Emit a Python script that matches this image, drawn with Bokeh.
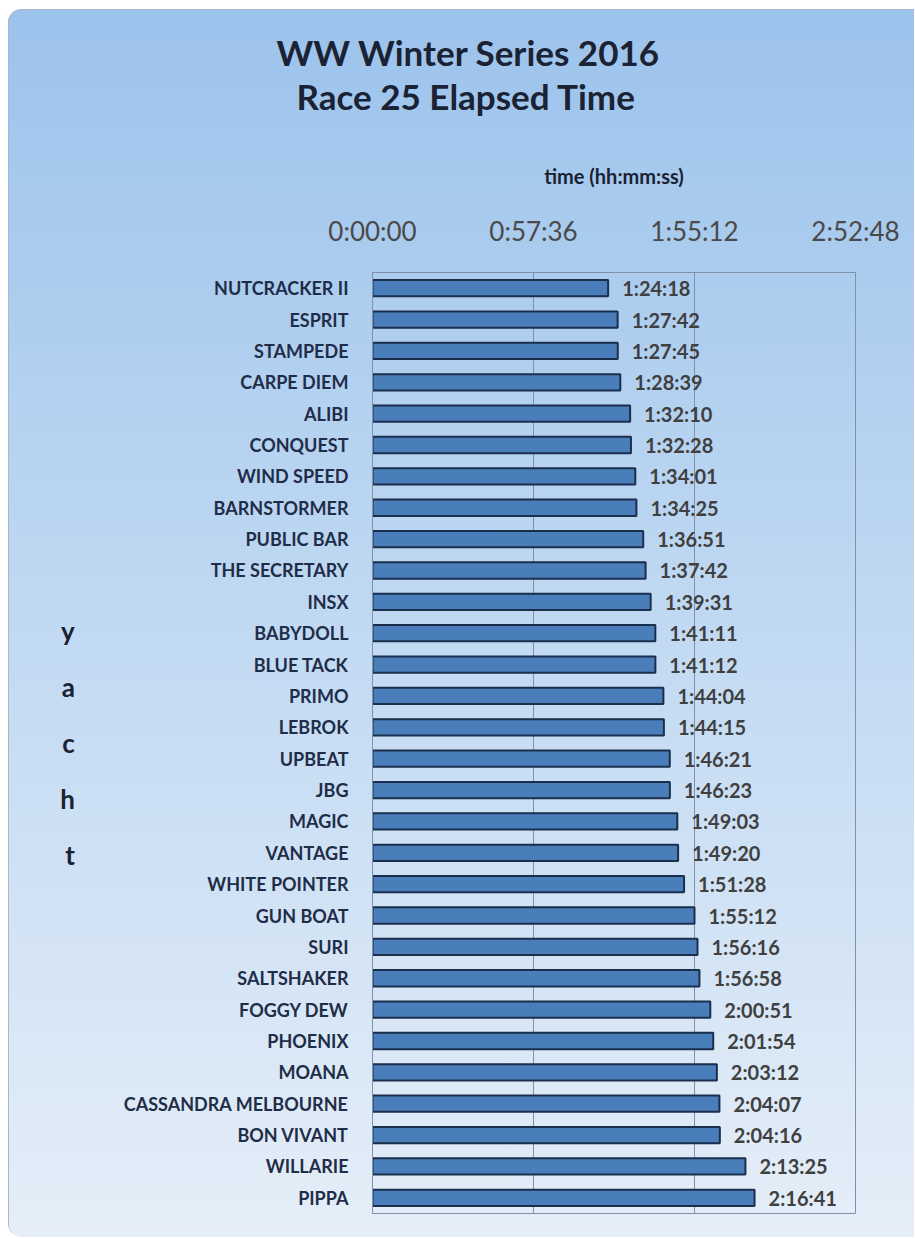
from bokeh.plotting import figure
from bokeh.models import FactorRange, Range1d, FixedTicker, Title, ColumnDataSource
from bokeh.embed import file_html
from bokeh.resources import INLINE
from bokeh.core.properties import value

title_lines = ["WW Winter Series 2016", "Race 25 Elapsed Time"]
x_label = "time (hh:mm:ss)"
y_label = "yacht"

yachts = ["NUTCRACKER II", "ESPRIT", "STAMPEDE", "CARPE DIEM", "ALIBI", "CONQUEST",
          "WIND SPEED", "BARNSTORMER", "PUBLIC BAR", "THE SECRETARY", "INSX", "BABYDOLL",
          "BLUE TACK", "PRIMO", "LEBROK", "UPBEAT", "JBG", "MAGIC", "VANTAGE",
          "WHITE POINTER", "GUN BOAT", "SURI", "SALTSHAKER", "FOGGY DEW", "PHOENIX",
          "MOANA", "CASSANDRA MELBOURNE", "BON VIVANT", "WILLARIE", "PIPPA"]
elapsed = ["1:24:18", "1:27:42", "1:27:45", "1:28:39", "1:32:10", "1:32:28",
           "1:34:01", "1:34:25", "1:36:51", "1:37:42", "1:39:31", "1:41:11",
           "1:41:12", "1:44:04", "1:44:15", "1:46:21", "1:46:23", "1:49:03", "1:49:20",
           "1:51:28", "1:55:12", "1:56:16", "1:56:58", "2:00:51", "2:01:54",
           "2:03:12", "2:04:07", "2:04:16", "2:13:25", "2:16:41"]
tick_seconds = [0, 3456, 6912, 10368]
tick_labels = ["0:00:00", "0:57:36", "1:55:12", "2:52:48"]


def to_sec(s):
    h, m, x = (int(v) for v in s.split(":"))
    return h * 3600 + m * 60 + x


secs = [to_sec(t) for t in elapsed]
src = ColumnDataSource(dict(yacht=yachts, secs=secs, label=elapsed))

FONT = "Lato"
GRID = "#7f92a9"
DARK = "#1a2233"

W, H = 906, 1228
p = figure(width=W, height=H,
           y_range=FactorRange(factors=yachts[::-1]),
           x_range=Range1d(tick_seconds[0], tick_seconds[-1]),
           x_axis_location="above",
           output_backend="svg", toolbar_location=None,
           min_border_left=364, min_border_right=W - 847,
           min_border_top=263, min_border_bottom=H - 1204)

p.background_fill_alpha = 0
p.border_fill_alpha = 0
p.outline_line_color = GRID
p.outline_line_alpha = 1
p.styles = {
    "margin-left": "8px",
    "margin-top": "9px",
    "background": "linear-gradient(180deg, #9cc3ec 0%, #bdd7f2 45%, #e5eef8 100%)",
    "border-radius": "14px 0 0 14px",
    "box-shadow": "inset 1px 1px 0 0 #a8b8ca",
}

p.hbar(y="yacht", left=0, right="secs", height=0.52, source=src,
       fill_color="#4a7ebb", line_color="#1b2f4d", line_width=2)
p.text(x="secs", y="yacht", text="label", source=src, x_offset=14,
       text_align="left", text_baseline="middle",
       text_font=value(FONT), text_font_style="bold",
       text_font_size="20px", text_color="#404040")

# x axis (top)
xa = p.xaxis[0]
xa.ticker = FixedTicker(ticks=tick_seconds)
xa.major_label_overrides = {t: l for t, l in zip(tick_seconds, tick_labels)}
xa.major_label_text_font = FONT
xa.major_label_text_font_size = "26px"
xa.major_label_text_color = "#4a4a4a"
xa.major_tick_out = 0
xa.major_tick_in = 0
xa.minor_tick_line_color = None
xa.major_label_standoff = 26
xa.axis_line_color = GRID
xa.axis_label = x_label
xa.axis_label_text_font = FONT
xa.axis_label_text_font_style = "bold"
xa.axis_label_text_font_size = "20px"
xa.axis_label_text_color = DARK
xa.axis_label_standoff = 24

# y axis
ya = p.yaxis[0]
ya.major_tick_line_color = None
ya.axis_line_color = GRID
ya.major_label_text_font = FONT
ya.major_label_text_font_style = "bold"
ya.major_label_text_font_size = "18px"
ya.major_label_text_color = "#1f2d48"
ya.major_label_standoff = 18
ya.axis_label = "\n".join(y_label)
ya.axis_label_orientation = "horizontal"
ya.axis_label_text_font = FONT
ya.axis_label_text_font_style = "bold"
ya.axis_label_text_font_size = "26px"
ya.axis_label_text_line_height = 1.75
ya.axis_label_text_color = DARK
ya.axis_label_standoff = 46

for g in p.xgrid:
    g.grid_line_color = GRID
    g.grid_line_alpha = 1
    g.grid_line_width = 1
for g in p.ygrid:
    g.grid_line_color = None

# titles: stacked above the axis (nearest first); offsets place them left of the frame centre
p.add_layout(Title(text=" ", text_font_size="29px"), "above")
p.add_layout(Title(text=title_lines[1], align="left", offset=-76, standoff=0,
                   text_font=FONT, text_font_style="bold", text_font_size="35px",
                   text_color=DARK), "above")
p.title.text = title_lines[0]
p.title.align = "left"
p.title.offset = -96
p.title.standoff = 0
p.title.text_font = FONT
p.title.text_font_style = "bold"
p.title.text_font_size = "35px"
p.title.text_color = DARK

open("out.html", "w").write(file_html(p, INLINE))
